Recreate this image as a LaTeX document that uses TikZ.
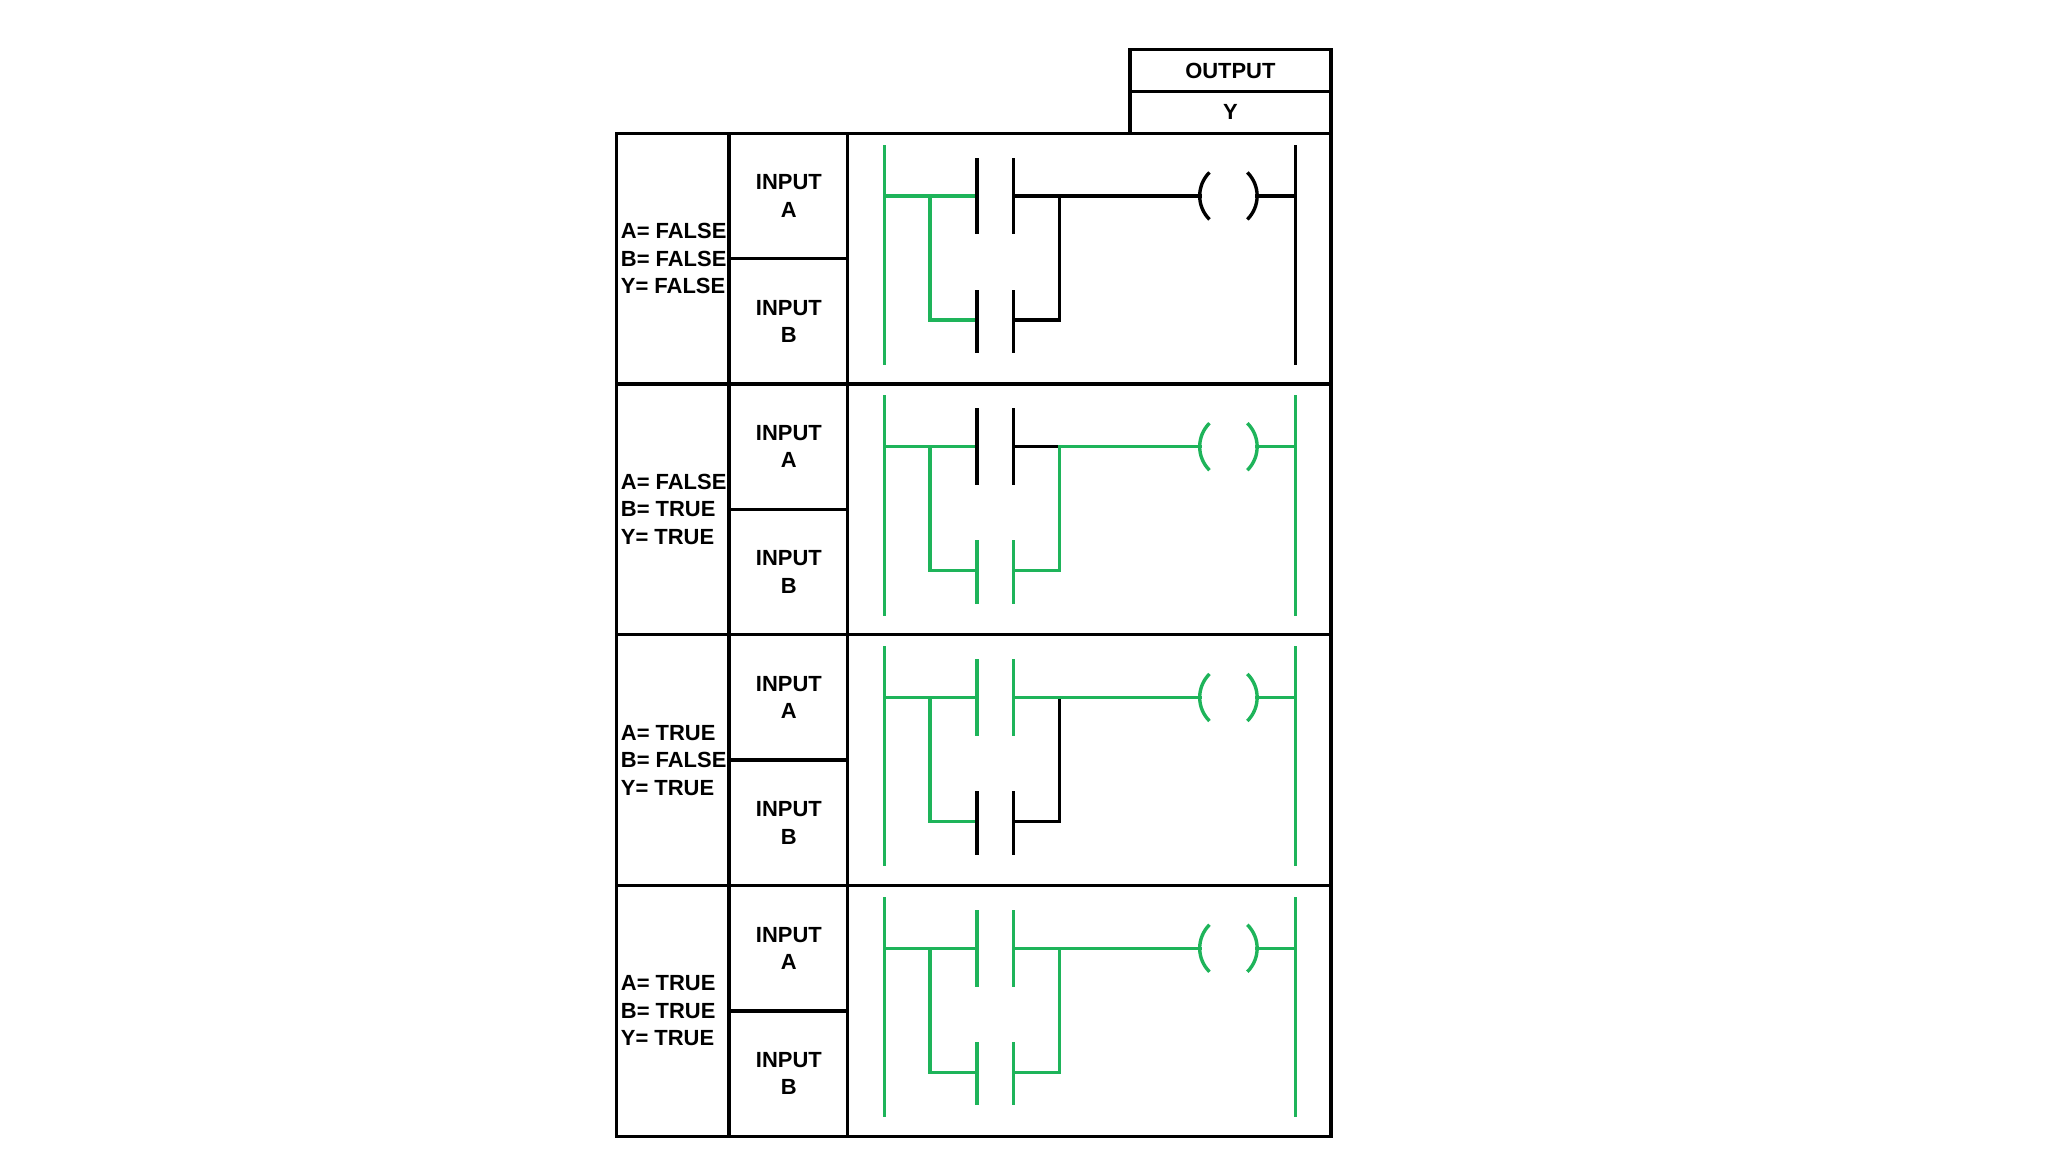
\documentclass[tikz,border=0pt]{standalone}
\usepackage{fontspec}
\setmainfont{Liberation Sans}
\definecolor{lg}{RGB}{30,180,90}
\tikzset{grid/.style={line width=1.3pt,black},
  w/.style={line width=1.3pt,line cap=rect},
  lbl/.style={font=\bfseries\fontsize{8.4}{10.5}\selectfont,inner sep=0pt},
  clbl/.style={lbl,align=center}}
\newcommand{\myrung}[6]{%
 % #1 top y, #2 A plates, #3 A right wire, #4 B plates, #5 B right wire+junction, #6 output
 \begin{scope}[yshift=#1*-0.5pt]
 \draw[w,lg] (677,10) -- (677,176);
 \draw[w,lg] (677,48) -- (748,48);
 \draw[w,lg] (712,48) -- (712,143) -- (748,143);
 \draw[w,#2] (748,20) -- (748,76) (776,20) -- (776,76);
 \draw[w,#4] (748,121) -- (748,167) (776,121) -- (776,167);
 \draw[w,#3] (776,48) -- (811,48);
 \draw[w,#5] (776,143) -- (811,143) -- (811,48);
 \draw[w,#6] (811,48) -- (919,48);
 \draw[w,#6,line cap=butt] (926,30) .. controls (916,40) and (916,56) .. (926,66);
 \draw[w,#6,line cap=butt] (955,30) .. controls (965,40) and (965,56) .. (955,66);
 \draw[w,#6] (962,48) -- (992,48);
 \draw[w,#6] (992,10) -- (992,176);
 \end{scope}}
\begin{document}
\begin{tikzpicture}[x=0.5pt,y=-0.5pt]
\useasboundingbox (0,0) rectangle (1568,882);
\fill[white] (0,0) rectangle (1568,882);
% output header
\draw[grid] (865,102) -- (865,38) -- (1019,38) -- (1019,102);
\draw[grid] (865,70) -- (1019,70);
\node[lbl] (out) at (942,54) {OUTPUT};
\node[lbl] (y) at (942,86) {Y};
% table
\draw[grid] (472,102) rectangle (1019,870);
\foreach \r in {294,486,678} \draw[grid] (472,\r) -- (1019,\r);
\draw[grid] (558,102) -- (558,870) (649,102) -- (649,870);
\foreach \r in {102,294,486,678} {
  \draw[grid] (558,\r+96) -- (649,\r+96);
  \node[clbl] at (604,\r+48) {INPUT\\A};
  \node[clbl] at (604,\r+144) {INPUT\\B};
}
\node[lbl,align=left,anchor=west] (s1) at (475,198) {A= FALSE\\B= FALSE\\Y= FALSE};
\node[lbl,align=left,anchor=west] (s2) at (475,390) {A= FALSE\\B= TRUE\\Y= TRUE};
\node[lbl,align=left,anchor=west] (s3) at (475,582) {A= TRUE\\B= FALSE\\Y= TRUE};
\node[lbl,align=left,anchor=west] (s4) at (475,774) {A= TRUE\\B= TRUE\\Y= TRUE};
\myrung{102}{black}{black}{black}{black}{black}
\myrung{294}{black}{black}{lg}{lg}{lg}
\myrung{486}{lg}{lg}{black}{black}{lg}
\myrung{678}{lg}{lg}{lg}{lg}{lg}
\end{tikzpicture}
\end{document}
